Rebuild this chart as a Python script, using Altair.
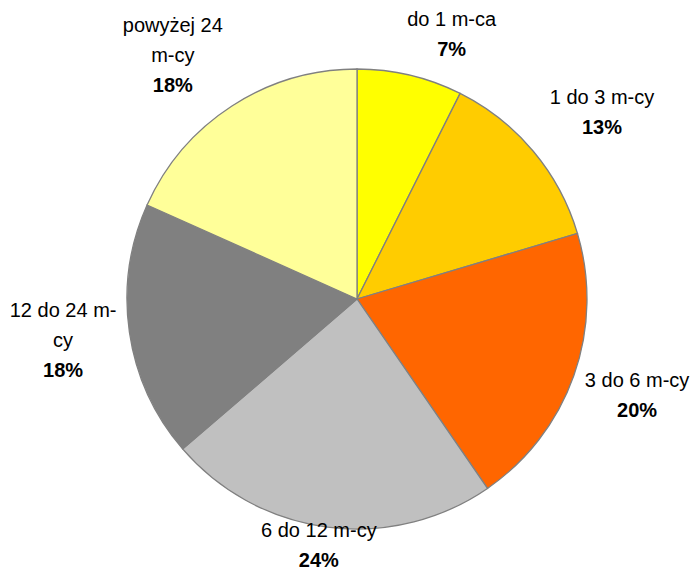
import altair as alt
import pandas as pd

# Data
categories = ["do 1 m-ca", "1 do 3 m-cy", "3 do 6 m-cy", "6 do 12 m-cy", "12 do 24 m-cy", "powyżej 24 m-cy"]
label_names = ["do 1 m-ca", "1 do 3 m-cy", "3 do 6 m-cy", "6 do 12 m-cy", "12 do 24 m-\ncy", "powyżej 24\nm-cy"]
shares = [7.4, 13.0, 20.0, 23.3, 18.0, 18.3]
pct_labels = ["7%", "13%", "20%", "24%", "18%", "18%"]
colors = ["#FFFF00", "#FFCC00", "#FF6600", "#C0C0C0", "#808080", "#FFFF99"]

df = pd.DataFrame({
    "idx": list(range(len(categories))),
    "category": categories,
    "name": label_names,
    "share": shares,
    "pct": pct_labels,
})

W, H = 684, 566
CX, CY, R = 349, 291, 230
RX, RY = 297, 290      # label block distance (horizontal / vertical)
PUSH = 27              # extra outward shift for labels in the upper half
LH = 30                # line spacing of the labels

base = alt.Chart(df)

arc = base.mark_arc(outerRadius=R, stroke="#808080", strokeWidth=1.3).encode(
    theta=alt.Theta("share:Q", stack=True),
    color=alt.Color("category:N", scale=alt.Scale(domain=categories, range=colors), legend=None),
    order=alt.Order("idx:Q"),
    x=alt.value(CX),
    y=alt.value(CY),
)

lab = base.transform_window(
    cum="sum(share)", sort=[alt.SortField("idx")], frame=[None, 0]
).transform_joinaggregate(
    total="sum(share)"
).transform_calculate(
    mid="2*PI*(datum.cum - datum.share/2)/datum.total",
    nl="length(split(datum.name, '\\n'))",
).transform_calculate(
    bx=f"{CX} + {RX}*sin(datum.mid) + (sin(datum.mid) > 0 ? 1 : -1)*{PUSH}*max(0, cos(datum.mid))",
    by=f"clamp({CY} - {RY}*cos(datum.mid), 12 + {LH/2}*datum.nl, 553 - {LH/2}*datum.nl)",
).transform_calculate(
    ny=f"datum.by - {LH/2}*datum.nl",
    py=f"datum.by + {LH/2}*datum.nl",
)

names = lab.mark_text(
    font="Liberation Sans", fontSize=20, color="#000000", align="center",
    baseline="middle", lineBreak="\n", lineHeight=LH,
).encode(
    x=alt.X("bx:Q", scale=None, axis=None),
    y=alt.Y("ny:Q", scale=None, axis=None),
    text="name:N",
)

pcts = lab.mark_text(
    font="Liberation Sans", fontSize=20, fontWeight="bold", color="#000000",
    align="center", baseline="middle",
).encode(
    x=alt.X("bx:Q", scale=None, axis=None),
    y=alt.Y("py:Q", scale=None, axis=None),
    text="pct:N",
)

chart = alt.layer(arc, names, pcts).properties(
    width=W, height=H, padding=0, autosize="none", background="#FFFFFF"
).configure_view(stroke=None)

chart.save("out.html", embed_options={"renderer": "svg", "actions": False})
